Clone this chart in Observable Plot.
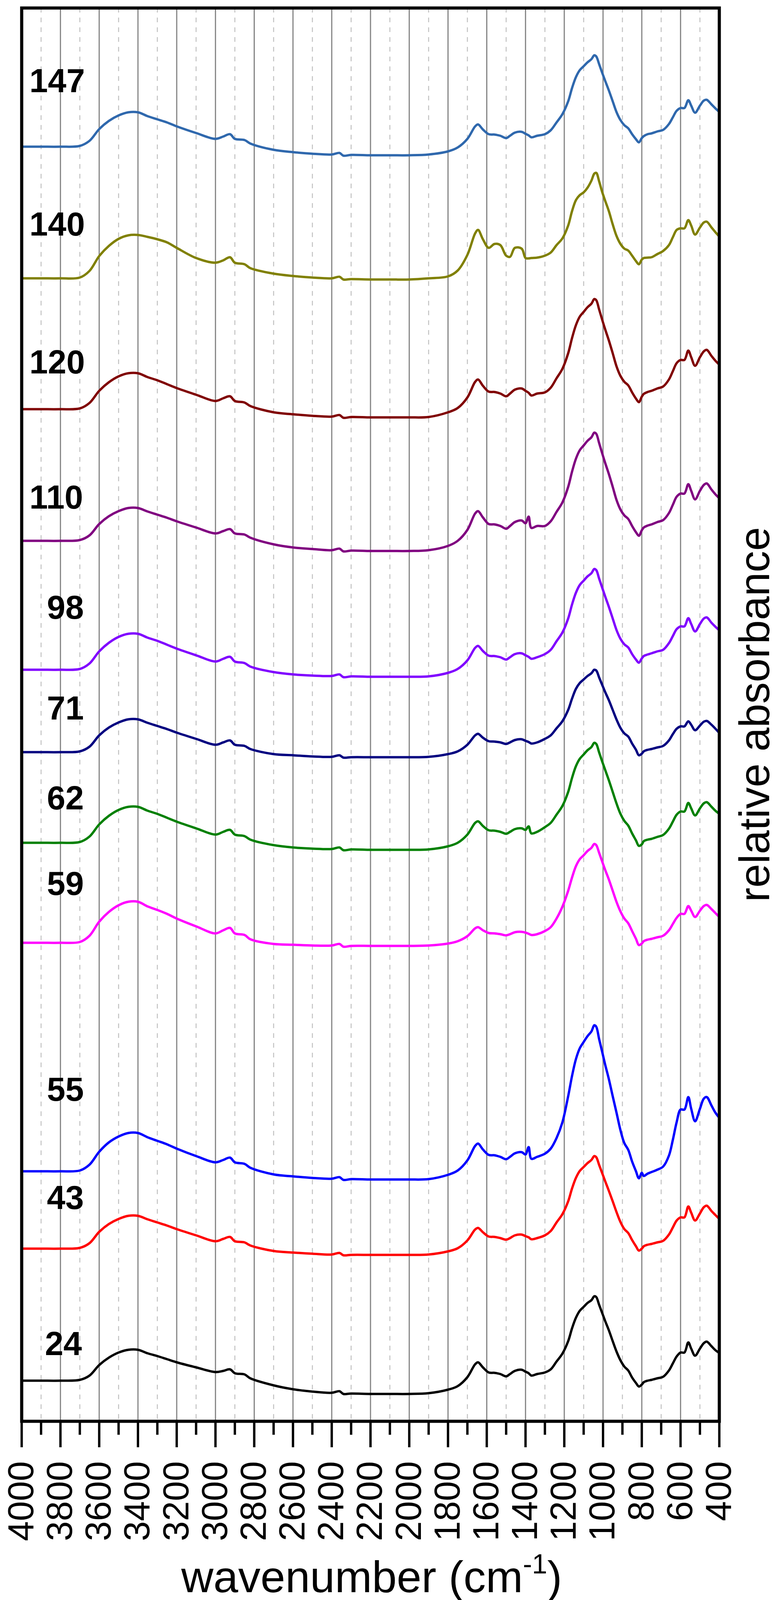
<!DOCTYPE html>
<html>
<head>
<meta charset="utf-8">
<script src="https://cdn.jsdelivr.net/npm/d3@7"></script>
<script src="https://cdn.jsdelivr.net/npm/@observablehq/plot@0.6"></script>
<style>
html, body { margin: 0; padding: 0; background: #fff; }
#chart svg { display: block; }
</style>
</head>
<body>
<div id="chart"></div>
<script>
// wavenumber grid (cm-1), shared by all spectra
const wavenumbers = [4000,3900,3800,3700,3650,3600,3550,3500,3450,3400,3350,3300,3250,3200,3100,3000,2960,2925,2900,2850,2820,2700,2600,2500,2400,2360,2340,2300,2200,2100,2000,1900,1800,1750,1700,1660,1645,1620,1590,1560,1530,1500,1480,1455,1420,1400,1384,1370,1340,1300,1270,1240,1210,1180,1160,1140,1120,1100,1080,1060,1045,1035,1020,1005,990,970,950,930,910,890,870,850,830,815,800,790,770,750,720,690,660,640,620,600,580,560,545,525,500,480,465,440,420,400];

const seriesNames  = ["147","140","120","110","98","71","62","59","55","43","24"];
const seriesColors = ["#2f68ad","#808000","#800000","#800080","#8000ff","#000080","#008000","#ff00ff","#0000ff","#ff0000","#000000"];
// vertical display offsets of the stacked spectra (relative absorbance units)
const offsets = [3263, 2926, 2591, 2254, 1924, 1713, 1481, 1225, 640, 442, 104];

// relative absorbance of each spectrum above its offset
const s147 = [0,0,0,2,15,45,66,80,88,88,78,70,62,52,35,20,26,32,20,17,8,-8,-14,-18,-20,-16,-23,-21,-22,-22,-22,-20,-12,-2,20,52,57,44,32,31,28,22,28,36,38,33,29,24,28,32,42,62,83,116,150,178,196,206,216,224,234,231,211,190,170,144,116,88,68,55,47,32,19,11,22,27,32,34,39,43,58,75,92,99,99,119,105,87,105,118,120,108,98,89];
const s140 = [0,0,0,2,19,57,83,101,110,111,106,100,92,78,52,40,46,54,40,36,26,12,6,2,0,4,-3,-2,-3,-3,-3,0,5,20,60,115,124,100,78,88,85,58,55,78,76,52,51,52,53,58,66,85,102,135,172,200,213,220,232,250,268,270,248,222,200,172,138,108,88,76,71,58,44,36,48,52,53,54,62,70,85,105,124,128,128,149,135,112,130,143,145,130,118,107];
const s120 = [0,0,0,2,16,47,69,84,92,92,82,74,64,54,37,21,28,33,21,17,8,-8,-13,-17,-19,-15,-22,-20,-21,-21,-21,-20,-8,3,30,70,76,60,45,44,40,33,40,50,53,47,42,35,40,43,55,79,103,143,182,215,237,249,261,270,282,279,255,230,206,176,143,109,85,70,61,43,27,18,32,39,44,47,53,58,76,97,118,126,126,150,133,111,133,148,152,136,124,114];
const s110 = [0,0,0,2,14,43,63,76,84,84,75,67,59,50,34,19,25,30,19,16,8,-9,-17,-21,-24,-20,-27,-25,-26,-26,-26,-24,-13,0,28,70,76,60,43,42,38,31,38,48,52,45,62,33,38,38,50,74,98,138,177,210,232,244,256,265,277,274,250,225,201,171,138,104,80,65,56,38,22,13,27,34,39,42,48,53,71,92,113,121,121,145,128,106,128,143,147,131,119,109];
const s98  = [0,0,0,2,16,47,69,84,92,92,82,74,64,54,37,21,28,33,21,17,8,-6,-12,-15,-16,-12,-19,-17,-18,-18,-18,-17,-8,2,24,56,61,48,36,35,32,26,32,40,42,37,33,28,32,40,51,73,95,131,167,197,217,228,239,247,258,255,233,211,189,161,131,101,79,65,57,40,26,18,29,35,39,42,47,51,68,86,104,111,111,132,117,98,117,131,134,120,110,101];
const s71  = [0,0,0,2,14,43,63,76,84,84,75,67,59,50,34,19,25,30,19,16,8,-5,-8,-11,-12,-8,-14,-13,-13,-13,-13,-12,-5,2,19,43,47,37,28,27,25,21,25,31,33,29,26,22,25,34,43,61,79,108,137,162,177,186,195,202,211,209,191,173,155,133,108,83,62,48,40,22,6,-8,-4,2,6,8,12,16,30,46,60,66,66,79,70,56,68,78,80,70,60,49];
const s62  = [0,0,0,2,16,47,69,84,92,92,82,74,64,54,37,21,28,33,21,17,8,-6,-12,-15,-16,-12,-19,-17,-18,-18,-18,-17,-9,0,21,51,55,43,32,31,28,23,28,35,37,33,42,24,28,40,51,72,94,130,166,196,215,226,237,245,256,253,231,209,188,160,130,100,74,56,44,24,6,-8,-4,4,8,10,15,20,36,54,72,80,80,102,88,70,88,101,104,92,82,74];
const s59  = [0,0,0,2,18,54,79,96,105,105,93,84,74,62,42,24,32,38,24,20,9,-3,-5,-7,-7,-3,-10,-8,-8,-8,-8,-7,-2,4,17,37,40,32,25,24,22,19,22,27,28,26,23,20,22,30,40,62,92,133,167,196,214,224,235,243,253,250,230,209,188,162,133,104,80,62,50,30,10,-6,-2,4,8,10,14,18,32,48,64,74,74,94,82,66,82,94,97,86,76,66];
const s55  = [0,0,0,2,17,50,74,89,98,98,87,78,69,58,39,23,29,35,23,19,9,-8,-13,-17,-19,-15,-22,-20,-21,-21,-21,-20,-9,2,28,65,71,56,42,41,37,31,37,46,49,43,62,32,37,45,58,85,125,192,244,287,315,331,346,358,374,370,338,307,275,236,192,149,105,72,55,25,0,-18,-4,-12,-6,-2,4,12,40,80,126,158,158,190,160,128,160,186,190,168,150,137];
const s43  = [0,0,0,2,14,43,63,76,84,84,75,67,59,50,34,19,25,30,19,16,8,-6,-10,-13,-15,-11,-17,-16,-16,-16,-16,-15,-7,1,21,49,53,42,31,30,27,23,27,34,36,32,29,24,27,34,45,67,88,121,154,181,199,209,219,227,237,234,214,194,174,148,121,93,68,50,40,22,6,-5,0,6,10,12,16,20,36,54,72,80,80,108,92,72,90,106,110,96,86,76];
const s24  = [0,0,0,2,13,40,59,72,79,79,70,63,55,47,34,22,25,29,19,16,6,-12,-22,-28,-31,-27,-34,-33,-34,-34,-34,-32,-23,-14,9,42,47,34,21,20,17,11,17,25,28,23,19,13,17,21,29,49,69,101,134,161,179,189,199,206,216,214,194,174,154,129,101,74,52,36,26,8,-6,-15,-10,-4,0,2,6,10,26,44,62,72,72,98,82,64,82,96,100,88,78,71];

const spectra = [s147, s140, s120, s110, s98, s71, s62, s59, s55, s43, s24];

// series labels: start wavenumber and level
const labelWn    = [3960, 3960, 3960, 3960, 3870, 3870, 3870, 3870, 3870, 3870, 3880];
const labelLevel = [3430, 3063, 2710, 2364, 2082, 1824, 1594, 1375, 848, 571, 197];

// axis ticks
const majorTicks = [4000,3800,3600,3400,3200,3000,2800,2600,2400,2200,2000,1800,1600,1400,1200,1000,800,600,400];
const minorTicks = [3900,3700,3500,3300,3100,2900,2700,2500,2300,2100,1900,1700,1500,1300,1100,900,700,500];
const gridMajor  = [3800,3600,3400,3200,3000,2800,2600,2400,2200,2000,1800,1600,1400,1200,1000,800,600];

const xTitle = "wavenumber (cm";
const xTitleSup = "-1";
const yTitle = "relative absorbance";

// build tidy rows
const rows = [];
spectra.forEach((vals, i) => {
  vals.forEach((v, j) => rows.push({wn: wavenumbers[j], a: offsets[i] + v, name: seriesNames[i]}));
});
const labels = seriesNames.map((n, i) => ({name: n, wn: labelWn[i], a: labelLevel[i]}));

const FONT = "'Liberation Sans', Arial, Helvetica, sans-serif";
const W = 1983, H = 4132;

const chart = Plot.plot({
  width: W,
  height: H,
  marginLeft: 55,
  marginRight: 143,
  marginTop: 20,
  marginBottom: 494,
  style: {fontFamily: FONT, background: "#fff", overflow: "visible", color: "#000"},
  x: {domain: [4000, 400]},
  y: {domain: [0, 3618], axis: null},
  marks: [
    Plot.ruleX(minorTicks, {stroke: "#c2c2c2", strokeWidth: 2.5, strokeDasharray: "12,13"}),
    Plot.ruleX(gridMajor, {stroke: "#858585", strokeWidth: 3}),
    ...seriesNames.map((n, i) => Plot.line(rows.filter(r => r.name === n), {
      x: "wn", y: "a", stroke: seriesColors[i], strokeWidth: 6, curve: "catmull-rom"
    })),
    Plot.text(labels, {x: "wn", y: "a", text: "name", fontSize: 85, fontWeight: "bold", textAnchor: "start", fill: "#000"}),
    Plot.frame({stroke: "#000", strokeWidth: 8}),
    Plot.axisX({ticks: minorTicks, tickSize: 35, strokeWidth: 6, tickFormat: () => "", label: null}),
    Plot.axisX({ticks: majorTicks, tickSize: 67, tickPadding: 35, tickRotate: -90, fontSize: 92, strokeWidth: 6, tickFormat: d => String(d), label: null})
  ]
});

document.getElementById("chart").appendChild(chart);

// axis titles
const svg = d3.select(chart);
const xt = svg.append("text")
  .attr("x", 951).attr("y", 4076)
  .attr("text-anchor", "middle")
  .attr("font-family", FONT).attr("font-size", 114).attr("fill", "#000");
xt.append("tspan").text(xTitle);
xt.append("tspan").attr("font-size", 70).attr("dy", -48).text(xTitleSup);
xt.append("tspan").attr("dy", 48).text(")");

svg.append("text")
  .attr("transform", "translate(1968,1829) rotate(-90)")
  .attr("text-anchor", "middle")
  .attr("font-family", FONT).attr("font-size", 110).attr("fill", "#000")
  .text(yTitle);
</script>
</body>
</html>
